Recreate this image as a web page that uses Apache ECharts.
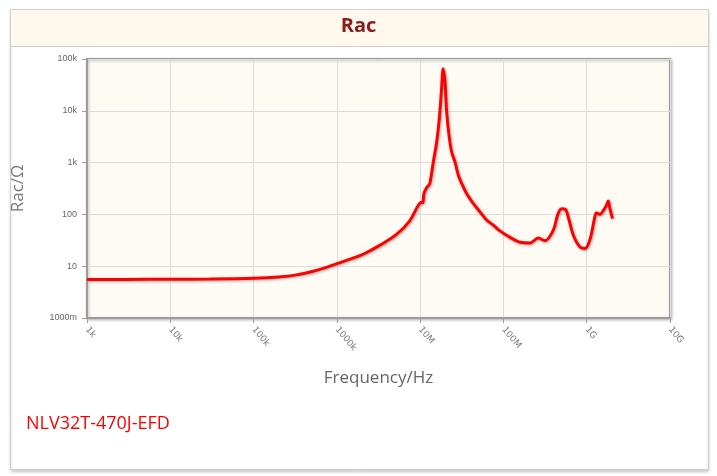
<!DOCTYPE html>
<html>
<head>
<meta charset="utf-8">
<script src="https://cdn.jsdelivr.net/npm/echarts@6/dist/echarts.min.js"></script>
<style>
html,body{margin:0;padding:0;background:#fff;}
#chart{width:717px;height:476px;}
</style>
</head>
<body>
<div id="chart"></div>
<script>
// ---- data ----
const titleText = 'Rac';
const partName = 'NLV32T-470J-EFD';
const xAxisName = 'Frequency/Hz';
const yAxisName = 'Rac/Ω';
const xTickLabels = ['1k','10k','100k','1000k','10M','100M','1G','10G']; // 1e3 .. 1e10
const yTickLabels = ['1000m','10','100','1k','10k','100k'];            // 1e0 .. 1e5
const freq = [1e3,3e3,1e4,3e4,1.0e5,2.0e5,3.3e5,5.2e5,7.5e5,1.0e6,1.5e6,2.1e6,3.3e6,5.2e6,7.5e6,9.5e6,1.04e7,1.08e7,1.11e7,1.2e7,1.26e7,1.31e7,1.44e7,1.58e7,1.70e7,1.81e7,1.89e7,1.99e7,2.08e7,2.22e7,2.39e7,2.62e7,2.87e7,3.15e7,3.61e7,4.34e7,5.22e7,6.28e7,7.55e7,9.07e7,1.2e8,1.58e8,2.08e8,2.62e8,3.15e8,3.96e8,4.5e8,5.0e8,5.5e8,6.0e8,6.89e8,8.28e8,9.51e8,1.09e9,1.25e9,1.31e9,1.44e9,1.58e9,1.73e9,1.81e9,1.90e9,2.04e9];
const rac  = [5.55,5.55,5.6,5.65,5.85,6.2,6.8,8.0,9.5,11.2,14.0,17.2,25.5,41,75,150,172,168,250,330,360,400,1030,2500,7100,27000,65000,36000,9600,3400,1600,1030,575,397,252,163,112,78,62,48,36,29,28,35,31,49,100,128,126,89,40,23.5,22,32,89,107,100,118,151,182,129,83];

const chart = echarts.init(document.getElementById('chart'), null, {renderer:'canvas'});
const seriesData = freq.map((f,i)=>[f, rac[i]]);
const dec = v => Math.round(Math.log10(v));

chart.setOption({
  animation:false,
  graphic:[
    {type:'rect', z:-10, shape:{x:10.5,y:9.5,width:698,height:460},
     style:{fill:'#fff',stroke:'#cfcfcf',lineWidth:1,shadowColor:'rgba(0,0,0,0.2)',shadowBlur:3,shadowOffsetY:2}},
    {type:'rect', z:-9, shape:{x:10.5,y:9.5,width:698,height:37},
     style:{fill:'#fef9ec',stroke:'#cfcfcf',lineWidth:1}},
    {type:'text', left:26, top:415,
     style:{text:partName, fill:'#ff0000', fontSize:18, fontFamily:'Open Sans'}}
  ],
  title:{text:titleText, left:'center', top:11,
    textStyle:{color:'#8b1c1c', fontSize:20, fontWeight:'bold', fontFamily:'Open Sans'}},
  grid:{left:87, top:59, width:583, height:259, show:true,
    backgroundColor:'#fdfbf3', borderColor:'#9c9c9c', borderWidth:2,
    shadowColor:'rgba(0,0,0,0.25)', shadowBlur:3, shadowOffsetX:1, shadowOffsetY:1},
  xAxis:{type:'log', logBase:10, min:1e3, max:1e10,
    name:xAxisName, nameLocation:'middle', nameGap:52,
    nameTextStyle:{color:'#666', fontSize:17, fontFamily:'Open Sans'},
    axisLine:{show:true, lineStyle:{color:'#9c9c9c', width:2}},
    axisTick:{show:true, length:5, lineStyle:{color:'#9c9c9c'}},
    axisLabel:{rotate:-50, margin:10, color:'#777', fontSize:9, fontFamily:'Verdana, DejaVu Sans',
      formatter:v=>xTickLabels[dec(v)-3]},
    splitLine:{show:true, lineStyle:{color:'#dcdcdc', width:1}}},
  yAxis:{type:'log', logBase:10, min:1, max:1e5,
    name:yAxisName, nameLocation:'middle', nameGap:60, nameRotate:90,
    nameTextStyle:{color:'#777', fontSize:17, fontFamily:'Open Sans'},
    axisLine:{show:true, lineStyle:{color:'#9c9c9c', width:2}},
    axisTick:{show:true, length:5, lineStyle:{color:'#9c9c9c'}},
    axisLabel:{margin:10, color:'#666', fontSize:9, fontFamily:'Liberation Sans, Arial',
      formatter:v=>yTickLabels[dec(v)]},
    splitLine:{show:true, lineStyle:{color:'#dcdcdc', width:1}}},
  series:[{type:'line', data:seriesData, showSymbol:false, smooth:0.35,
    lineStyle:{color:'#ff0000', width:3, shadowColor:'rgba(0,0,0,0.3)', shadowBlur:3, shadowOffsetX:1, shadowOffsetY:1}}]
});
</script>
</body>
</html>
